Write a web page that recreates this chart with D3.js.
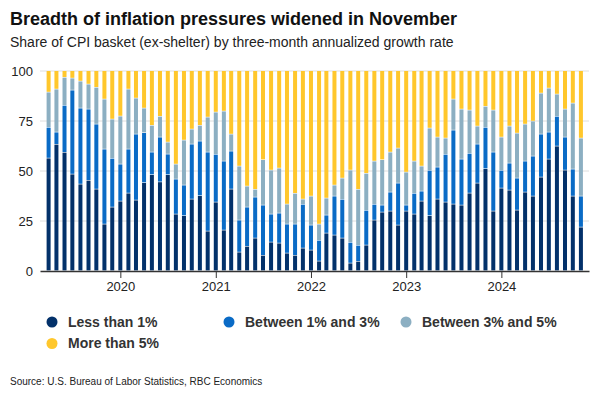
<!DOCTYPE html>
<html>
<head>
<meta charset="utf-8">
<script src="https://cdn.jsdelivr.net/npm/d3@7"></script>
<style>
  body { margin: 0; background: #fff; }
  svg { display: block; font-family: "Liberation Sans", Arial, sans-serif; }
</style>
</head>
<body>
<svg id="chart" width="600" height="400"></svg>
<script>
// months Apr 2019 .. Nov 2024
var months = d3.timeMonth.range(new Date(2019, 3, 1), new Date(2024, 11, 1));

var seriesKeys = ["lt1", "b13", "b35", "gt5"];
var seriesNames = ["Less than 1%", "Between 1% and 3%", "Between 3% and 5%", "More than 5%"];
var seriesColors = ["#03316a", "#0a6bc6", "#8cafc2", "#ffc72c"];

// share of basket (%)
var lt1 = [56.3, 63.2, 59.2, 48.3, 43.3, 45.2, 40.8, 23.3, 31.8, 34.8, 38.8, 35.3,
  44.0, 48.0, 44.4, 48.0, 28.3, 27.5, 35.8, 37.5, 19.8, 34.3, 20.3, 40.8,
  9.3, 12.2, 16.3, 7.7, 14.3, 13.8, 8.8, 7.7, 11.3, 10.3, 4.8, 18.8,
  17.8, 16.3, 3.8, 4.7, 12.8, 25.3, 29.3, 29.8, 22.8, 29.8, 28.3, 34.8,
  27.5, 35.8, 34.3, 33.3, 32.8, 38.8, 43.8, 51.0, 29.8, 41.3, 40.3, 30.3,
  39.3, 37.3, 46.8, 55.8, 62.3, 50.3, 37.3, 21.8];
var b13 = [15.4, 6.1, 23.5, 42.0, 38.0, 35.6, 32.5, 37.5, 24.4, 18.5, 22.0, 33.0,
  25.0, 11.3, 22.4, 10.3, 17.5, 15.3, 27.5, 27.3, 39.5, 23.9, 34.5, 19.0,
  16.0, 19.6, 20.5, 25.1, 14.0, 15.0, 14.5, 15.6, 21.9, 12.5, 10.4, 9.0,
  19.5, 19.4, 10.4, 8.0, 17.4, 7.9, 3.5, 9.5, 21.0, 3.0, 10.4, 5.0,
  22.7, 16.0, 23.9, 37.0, 23.0, 19.9, 19.5, 20.7, 29.5, 8.9, 13.5, 16.0,
  15.5, 20.0, 21.5, 13.5, 14.9, 16.5, 13.5, 15.5];
var b35 = [17.6, 21.5, 14.0, 6.0, 13.5, 12.5, 18.4, 25.0, 19.6, 24.0, 30.0, 18.0,
  12.3, 13.4, 10.4, 6.0, 7.5, 22.5, 7.5, 7.9, 17.5, 21.1, 25.0, 8.5,
  27.0, 10.5, 3.9, 22.7, 22.0, 22.5, 10.0, 15.4, 2.6, 14.5, 8.1, 8.5,
  5.5, 10.6, 36.1, 28.0, 18.5, 21.6, 22.7, 20.0, 17.5, 16.5, 16.1, 12.5,
  21.1, 15.0, 8.1, 15.5, 25.0, 21.6, 9.0, 10.5, 21.0, 16.6, 18.5, 22.5,
  18.5, 17.5, 20.5, 22.0, 11.1, 14.0, 33.0, 29.0];
var gt5 = [10.7, 9.2, 3.3, 3.7, 5.2, 6.7, 8.3, 14.2, 24.2, 22.7, 9.2, 13.7,
  18.7, 27.3, 22.8, 35.7, 46.7, 34.7, 29.2, 27.3, 23.2, 20.7, 20.2, 31.7,
  47.7, 57.7, 59.3, 44.5, 49.7, 48.7, 66.7, 61.3, 64.2, 62.7, 76.7, 63.7,
  57.2, 53.7, 49.7, 59.3, 51.3, 45.2, 44.5, 40.7, 38.7, 50.7, 45.2, 47.7,
  28.7, 33.2, 33.7, 14.2, 19.2, 19.7, 27.7, 17.8, 19.7, 33.2, 27.7, 31.2,
  26.7, 25.2, 11.2, 8.7, 11.7, 19.2, 16.2, 33.7];

var yTicks = [0, 25, 50, 75, 100];

var rows = months.map(function (m, i) {
  return { date: m, lt1: lt1[i], b13: b13[i], b35: b35[i], gt5: gt5[i] };
});

var svg = d3.select("#chart");
var plotLeft = 40, plotRight = 589, plotTop = 71, plotBottom = 271;

var x = d3.scaleTime()
  .domain([d3.timeDay.offset(months[0], -33), d3.timeDay.offset(months[months.length - 1], 31)])
  .range([plotLeft, plotRight]);
var y = d3.scaleLinear().domain([0, 100]).range([plotBottom, plotTop]);

// title block
svg.append("text").attr("x", 10).attr("y", 24.5)
  .style("font-size", "18px").style("font-weight", "bold").style("fill", "#111")
  .text("Breadth of inflation pressures widened in November");
svg.append("text").attr("x", 10).attr("y", 46.5)
  .style("font-size", "14px").style("fill", "#222")
  .text("Share of CPI basket (ex-shelter) by three-month annualized growth rate");

// grid
svg.append("g").selectAll("line")
  .data(yTicks.filter(function (d) { return d > 0; }))
  .join("line")
  .attr("x1", plotLeft).attr("x2", plotRight)
  .attr("y1", function (d) { return y(d); }).attr("y2", function (d) { return y(d); })
  .attr("stroke", "#dedede").attr("stroke-width", 1);

// y labels
svg.append("g").selectAll("text")
  .data(yTicks)
  .join("text")
  .attr("x", 33).attr("y", function (d) { return y(d); }).attr("dy", "0.35em")
  .attr("text-anchor", "end")
  .style("font-size", "13px").style("fill", "#222")
  .text(function (d) { return d; });

// stacked bars
var stack = d3.stack().keys(seriesKeys)(rows);
var barW = 4;
svg.append("g").selectAll("g")
  .data(stack)
  .join("g")
  .attr("fill", function (d, i) { return seriesColors[i]; })
  .selectAll("rect")
  .data(function (d) { return d; })
  .join("rect")
  .attr("x", function (d) { return x(d.data.date) - barW / 2; })
  .attr("width", barW)
  .attr("y", function (d) { return y(d[1]); })
  .attr("height", function (d) { return Math.max(0, y(d[0]) - y(d[1]) - 0.6); });

// x axis
var xAxis = svg.append("g")
  .attr("transform", "translate(0," + plotBottom + ")")
  .call(d3.axisBottom(x).ticks(d3.timeYear.every(1)).tickFormat(d3.timeFormat("%Y"))
    .tickSize(7).tickSizeOuter(0).tickPadding(4));
xAxis.select(".domain").attr("stroke", "#333").attr("stroke-width", 1.5);
xAxis.selectAll(".tick line").attr("stroke", "#333");
xAxis.selectAll(".tick text")
  .style("font-size", "13px").style("fill", "#222").style("font-family", "Liberation Sans, Arial, sans-serif");

// legend
var legendPos = [[52, 322], [229, 322], [406, 322], [52, 343.5]];
var legend = svg.append("g").selectAll("g")
  .data(seriesNames)
  .join("g")
  .attr("transform", function (d, i) { return "translate(" + legendPos[i][0] + "," + legendPos[i][1] + ")"; });
legend.append("circle").attr("r", 5.5).attr("fill", function (d, i) { return seriesColors[i]; });
legend.append("text").attr("x", 16).attr("dy", "0.35em")
  .style("font-size", "14px").style("font-weight", "bold").style("fill", "#333")
  .text(function (d) { return d; });

// source
svg.append("text").attr("x", 10).attr("y", 384.5)
  .style("font-size", "10px").style("fill", "#222")
  .text("Source: U.S. Bureau of Labor Statistics, RBC Economics");
</script>
</body>
</html>
